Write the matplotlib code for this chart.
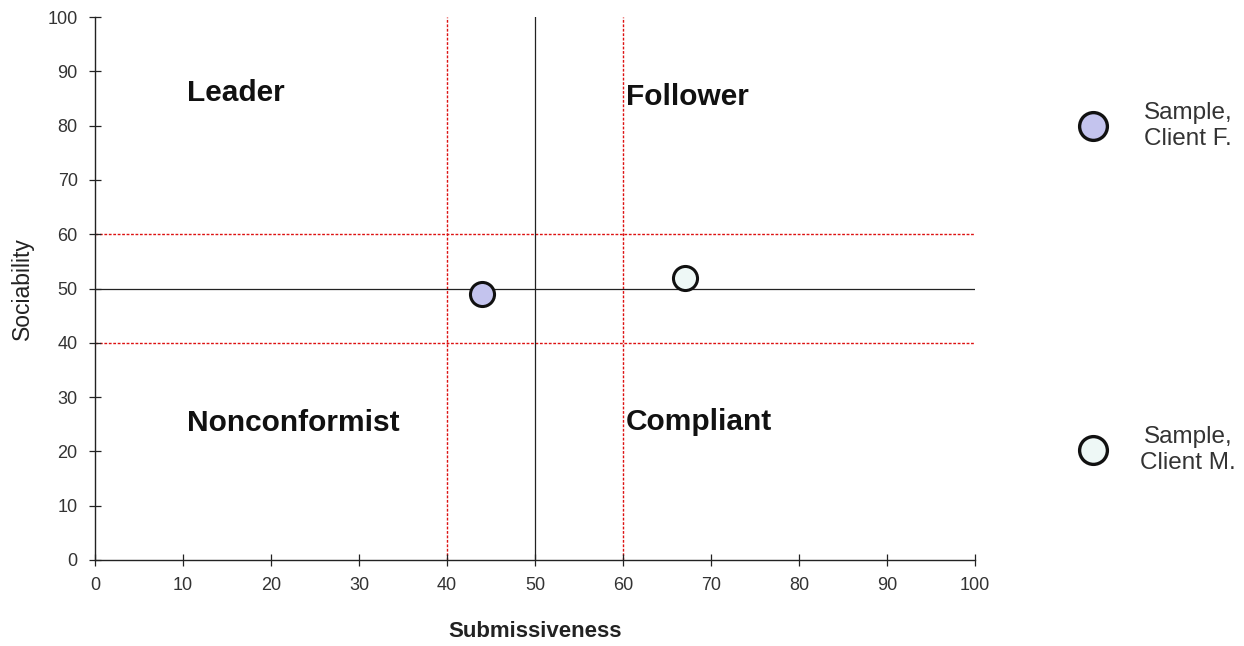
import matplotlib
matplotlib.use("Agg")
import matplotlib.pyplot as plt

plt.rcParams['font.family'] = ['Liberation Sans', 'DejaVu Sans']

clients = ["Sample,\nClient F.", "Sample,\nClient M."]
submissiveness = [44, 67]
sociability = [49, 52]
colors = ["#c4c4ee", "#eef8f6"]
quadrant_labels = ["Leader", "Follower", "Nonconformist", "Compliant"]
quadrant_x = [10.5, 60.3, 10.5, 60.3]
quadrant_y = [86.0, 85.3, 25.3, 25.5]
ticks = [0, 10, 20, 30, 40, 50, 60, 70, 80, 90, 100]

fig = plt.figure(figsize=(12.44, 6.46), dpi=100)
ax = fig.add_axes([95/1244, 1-560/646, 880/1244, 543/646])
ax.set_xlim(0, 100)
ax.set_ylim(0, 100)
ax.set_xticks(ticks)
ax.set_yticks(ticks)
for s in ["top", "right"]:
    ax.spines[s].set_visible(False)
for s in ["left", "bottom"]:
    ax.spines[s].set_linewidth(1.0)
    ax.spines[s].set_color("#222222")
ax.tick_params(direction="inout", length=9, width=0.9, colors="#222222",
               labelsize=13, labelcolor="#333333", pad=8)

for v in [40, 60]:
    ax.axvline(v, color="#dd1111", lw=1.0, ls=(0, (2, 1.2)), zorder=1)
    ax.axhline(v, color="#dd1111", lw=1.0, ls=(0, (2, 1.2)), zorder=1)
ax.axvline(50, color="#222222", lw=0.9, zorder=1)
ax.axhline(50, color="#222222", lw=0.9, zorder=1)

for x, y, c in zip(submissiveness, sociability, colors):
    ax.scatter([x], [y], s=300, color=c, edgecolor="#111111", linewidth=2.2, zorder=3)

for t, x, y in zip(quadrant_labels, quadrant_x, quadrant_y):
    ax.text(x, y, t, fontsize=21.5, fontweight="bold", color="#111111",
            ha="left", va="center")

ax.set_xlabel("Submissiveness", fontsize=16, fontweight="bold", color="#222222", labelpad=19)
ax.set_ylabel("Sociability", fontsize=16.5, color="#222222", labelpad=10)

# legend
leg_y = [1-126/646, 1-450/646]
for name, c, ly in zip(clients, colors, leg_y):
    fig.add_artist(plt.Line2D([1093/1244], [ly], marker="o", markersize=20,
                              markerfacecolor=c, markeredgecolor="#111111",
                              markeredgewidth=2.4, transform=fig.transFigure))
    fig.text(1188/1244, ly, name, fontsize=17.5, color="#333333", ha="center",
             va="center", linespacing=1.2)

fig.savefig("out.png", dpi=100)
